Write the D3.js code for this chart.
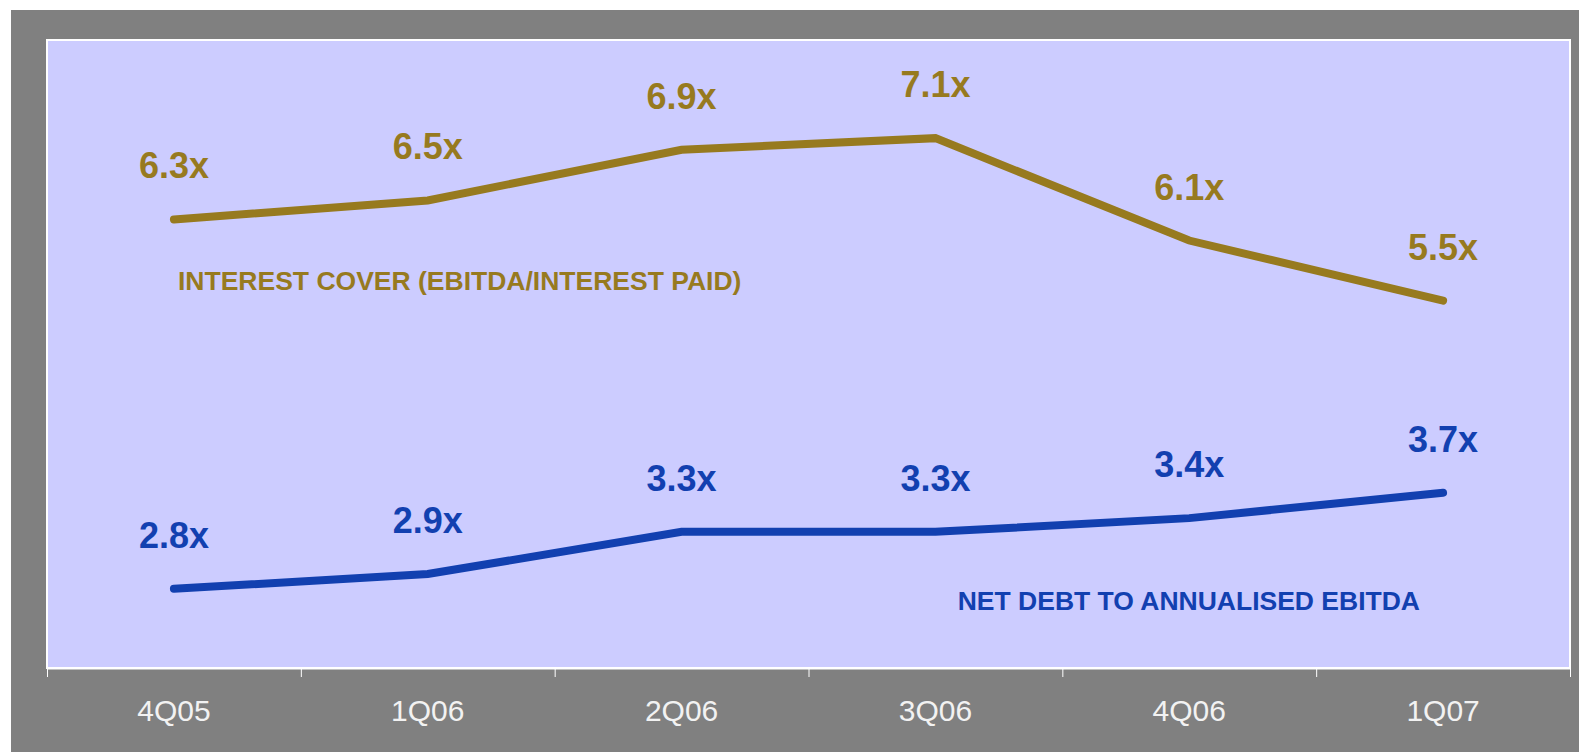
<!DOCTYPE html>
<html>
<head>
<meta charset="utf-8">
<script src="https://cdn.jsdelivr.net/npm/d3@7"></script>
<style>
  body { margin: 0; background: #ffffff; }
  text { font-family: "Liberation Sans", Arial, sans-serif; }
</style>
</head>
<body>
<div id="chart"></div>
<script>
// data (line positions), labels as printed
var quarters = ["4Q05", "1Q06", "2Q06", "3Q06", "4Q06", "1Q07"];
var interestCover = [6.3, 6.48, 6.96, 7.07, 6.1, 5.53];
var interestCoverLabels = ["6.3x", "6.5x", "6.9x", "7.1x", "6.1x", "5.5x"];
var netDebt = [2.8, 2.94, 3.34, 3.34, 3.47, 3.71];
var netDebtLabels = ["2.8x", "2.9x", "3.3x", "3.3x", "3.4x", "3.7x"];

var svgWidth = 1579;
var svgHeight = 752;

var plot = { left: 47, right: 1570, top: 40, bottom: 668 };

var svg = d3.select("#chart")
    .append("svg")
    .attr("width", svgWidth)
    .attr("height", svgHeight);

// gray frame
svg.append("rect")
    .attr("x", 11)
    .attr("y", 10)
    .attr("width", svgWidth - 11)
    .attr("height", svgHeight - 10)
    .attr("fill", "#808080");

// plot area
svg.append("rect")
    .attr("x", plot.left)
    .attr("y", plot.top)
    .attr("width", plot.right - plot.left)
    .attr("height", plot.bottom - plot.top)
    .attr("fill", "#ccccff")
    .attr("stroke", "#ffffff")
    .attr("stroke-width", 2);

var xBand = d3.scaleBand()
    .domain(quarters)
    .range([plot.left, plot.right]);

var xEdge = d3.scaleLinear()
    .domain([0, quarters.length])
    .range([plot.left, plot.right]);

var yScale = d3.scaleLinear()
    .domain([2.05, 8.0])
    .range([plot.bottom, plot.top]);

var xc = function(d, i) { return xBand(quarters[i]) + xBand.bandwidth() / 2; };

// axis with ticks at category boundaries
var bottomAxis = d3.axisBottom(xEdge)
    .tickValues(d3.range(quarters.length + 1))
    .tickFormat("")
    .tickSizeInner(9)
    .tickSizeOuter(0);

var xAxis = svg.append("g")
    .attr("transform", `translate(0,${plot.bottom})`)
    .call(bottomAxis);
xAxis.select(".domain").attr("stroke", "#ffffff").attr("stroke-width", 2);
xAxis.selectAll(".tick line").attr("stroke", "#ffffff").attr("stroke-width", 1);

svg.append("g").selectAll("text")
    .data(quarters)
    .enter()
    .append("text")
    .attr("x", d => xBand(d) + xBand.bandwidth() / 2)
    .attr("y", 721)
    .attr("text-anchor", "middle")
    .attr("font-size", "30px")
    .attr("fill", "#f2f2f2")
    .text(d => d);

var series = [
    { name: "INTEREST COVER (EBITDA/INTEREST PAID)", values: interestCover, labels: interestCoverLabels,
      color: "#977a1f", labelX: 178, labelY: 290, anchor: "start" },
    { name: "NET DEBT TO ANNUALISED EBITDA", values: netDebt, labels: netDebtLabels,
      color: "#1240b0", labelX: 1420, labelY: 610, anchor: "end" }
];

var line = d3.line()
    .x(xc)
    .y(d => yScale(d));

series.forEach(function(s) {
    svg.append("path")
        .datum(s.values)
        .attr("d", line)
        .attr("fill", "none")
        .attr("stroke", s.color)
        .attr("stroke-width", 8)
        .attr("stroke-linecap", "round")
        .attr("stroke-linejoin", "miter");

    svg.append("g").selectAll("text")
        .data(s.values)
        .enter()
        .append("text")
        .attr("x", xc)
        .attr("y", d => yScale(d) - 41)
        .attr("text-anchor", "middle")
        .attr("font-size", "36px")
        .attr("font-weight", "bold")
        .attr("fill", s.color)
        .text((d, i) => s.labels[i]);

    svg.append("text")
        .attr("x", s.labelX)
        .attr("y", s.labelY)
        .attr("text-anchor", s.anchor)
        .attr("font-size", "26.5px")
        .attr("font-weight", "bold")
        .attr("fill", s.color)
        .text(s.name);
});
</script>
</body>
</html>
